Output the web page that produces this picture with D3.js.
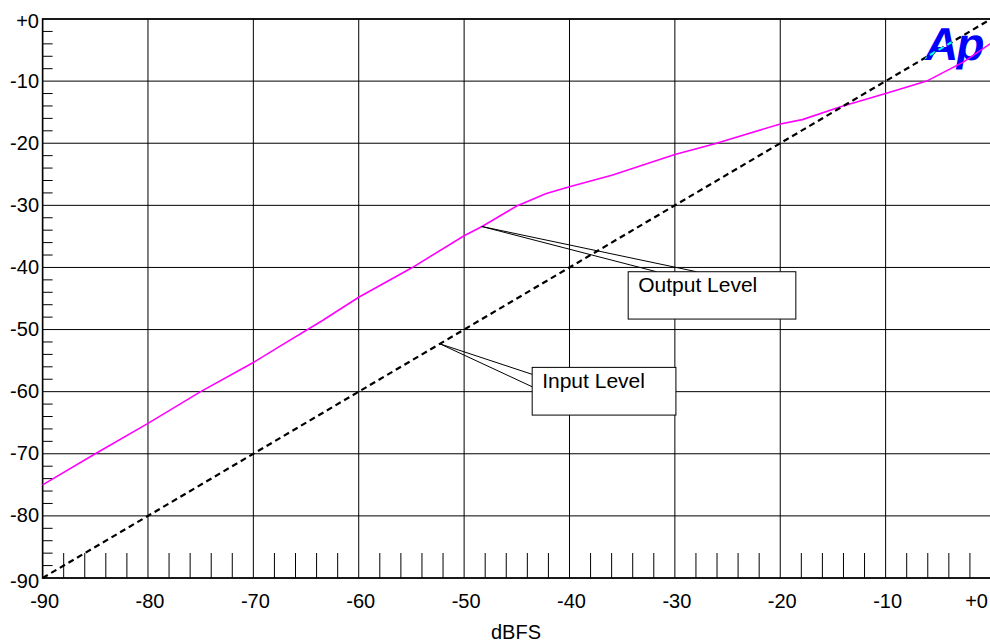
<!DOCTYPE html>
<html><head><meta charset="utf-8">
<script src="https://cdn.jsdelivr.net/npm/d3@7"></script>
<style>
html,body{margin:0;padding:0;background:#fff;}
svg{display:block;font-family:Arial,"Liberation Sans",sans-serif;}
</style></head>
<body>
<svg id="chart" width="990" height="643"></svg>
<script>
// ---- data ----
const xTicks = [-90,-80,-70,-60,-50,-40,-30,-20,-10,0];
const yTicks = [0,-10,-20,-30,-40,-50,-60,-70,-80,-90];
const xTickLabels = ["-90","-80","-70","-60","-50","-40","-30","-20","-10","+0"];
const yTickLabels = ["+0","-10","-20","-30","-40","-50","-60","-70","-80","-90"];
const xTitle = "dBFS";
const outputX = [-90,-85,-80,-75,-70,-67.5,-63.4,-60,-55,-50,-48.3,-45,-42.2,-40,-35.9,-30,-26.2,-20,-17.9,-14.2,-10,-6.1,-2.6,0];
const outputY = [-75,-70,-65.1,-60,-55.3,-52.7,-48.5,-44.8,-40.1,-34.9,-33.4,-30.1,-28.1,-27,-25.1,-21.8,-20.1,-16.9,-16.2,-14.1,-12,-10,-6.9,-3.9];
const inputX = [-90,0];
const inputY = [-90,0];
const annotations = [
  {label:"Output Level", tip:[-48.34,-33.4], box:[-34.43,-40.69,-18.52,-48.31], base:[[-31.74,-40.69],[-27.94,-40.69]]},
  {label:"Input Level", tip:[-52.3,-52.3], box:[-43.54,-56.09,-29.9,-63.77], base:[[-43.54,-57.21],[-43.54,-59.21]]}
];

// ---- layout ----
const svg = d3.select("#chart");
const x = d3.scaleLinear().domain([-90,0]).range([42.6,991]);
const y = d3.scaleLinear().domain([0,-90]).range([19,578]);

// grid
const g = svg.append("g");
g.selectAll(".vg").data(xTicks).join("line")
  .attr("x1",d=>x(d)).attr("x2",d=>x(d)).attr("y1",y(0)).attr("y2",y(-90))
  .attr("stroke","#000").attr("stroke-width",1);
g.selectAll(".hg").data(yTicks).join("line")
  .attr("y1",d=>y(d)).attr("y2",d=>y(d)).attr("x1",x(-90)).attr("x2",x(0))
  .attr("stroke","#000").attr("stroke-width",1);

// minor ticks
const minor = d3.range(-88,0,2).filter(v=>v%10!==0);
g.selectAll(".mx").data(minor).join("line")
  .attr("x1",d=>x(d)).attr("x2",d=>x(d)).attr("y1",y(-90)).attr("y2",y(-90)-25)
  .attr("stroke","#000").attr("stroke-width",1);
g.selectAll(".my").data(minor).join("line")
  .attr("y1",d=>y(d)).attr("y2",d=>y(d)).attr("x1",x(-90)).attr("x2",x(-90)+10)
  .attr("stroke","#000").attr("stroke-width",1);

// frame
g.append("rect").attr("x",x(-90)).attr("y",y(0)).attr("width",x(0)-x(-90)).attr("height",y(-90)-y(0))
  .attr("fill","none").attr("stroke","#000").attr("stroke-width",1.6);

// tick labels
svg.append("g").selectAll("text").data(xTicks).join("text")
  .attr("x",(d,i)=> i===xTicks.length-1 ? 988 : x(d)+2)
  .attr("y",608)
  .attr("text-anchor",(d,i)=> i===xTicks.length-1 ? "end" : "middle")
  .attr("font-size",20).text((d,i)=>xTickLabels[i]);
svg.append("g").selectAll("text").data(yTicks).join("text")
  .attr("x",39)
  .attr("y",(d,i)=> y(d) + 6.5 + (i===0 ? 2.7 : 0) + (i===yTicks.length-1 ? 3.7 : 0))
  .attr("text-anchor","end")
  .attr("font-size",20).text((d,i)=>yTickLabels[i]);
svg.append("text").attr("x",516).attr("y",639).attr("text-anchor","middle")
  .attr("font-size",20).text(xTitle);

// logo
const logoX = 923, logoY = 60;
const logoT = `translate(${logoX},${logoY}) skewX(-10)`;
svg.append("defs").append("clipPath").attr("id","logoclip")
  .append("text").attr("transform",logoT)
  .attr("font-size",46).attr("font-weight","bold")
  .attr("letter-spacing",-2).text("Ap");
svg.append("text").attr("transform",logoT)
  .attr("font-size",46).attr("font-weight","bold")
  .attr("letter-spacing",-2).attr("fill","#0000ff").text("Ap");

// lines
const line = d3.line().x(d=>x(d[0])).y(d=>y(d[1]));
const outData = outputX.map((v,i)=>[v,outputY[i]]);
const inData = inputX.map((v,i)=>[v,inputY[i]]);
svg.append("path").datum(outData).attr("d",line).attr("fill","none")
  .attr("stroke","#ff00ff").attr("stroke-width",1.6);
svg.append("path").datum(inData).attr("d",line).attr("fill","none")
  .attr("stroke","#000").attr("stroke-width",2.2).attr("stroke-dasharray","6,4");
svg.append("path").datum(inData).attr("d",line).attr("fill","none")
  .attr("stroke","#00ffff").attr("stroke-width",2.2).attr("stroke-dasharray","6,4")
  .attr("clip-path","url(#logoclip)");

// annotations
const an = svg.append("g");
annotations.forEach(a=>{
  a.base.forEach(b=>{
    an.append("line").attr("x1",x(a.tip[0])).attr("y1",y(a.tip[1]))
      .attr("x2",x(b[0])).attr("y2",y(b[1])).attr("stroke","#000").attr("stroke-width",1);
  });
  const bx = x(a.box[0]), by = y(a.box[1]);
  an.append("rect").attr("x",bx).attr("y",by)
    .attr("width",x(a.box[2])-bx).attr("height",y(a.box[3])-by)
    .attr("fill","#fff").attr("stroke","#000").attr("stroke-width",1);
  an.append("text").attr("x",bx+10).attr("y",by+20.6).attr("font-size",21).text(a.label);
});
</script>
</body></html>
